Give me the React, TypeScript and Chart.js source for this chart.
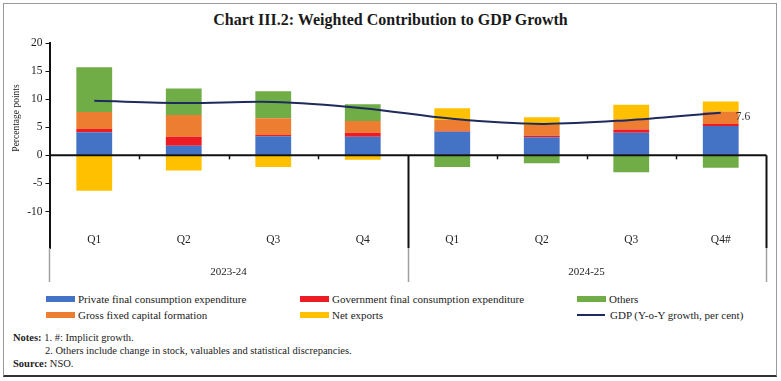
import React, { useEffect, useRef } from 'react';
import { Chart, registerables } from 'chart.js';

Chart.register(...registerables);

const QUARTERS = ['Q1', 'Q2', 'Q3', 'Q4', 'Q1', 'Q2', 'Q3', 'Q4#'];
const YEARS = ['2023-24', '2024-25'];
const PFCE = [4.1, 1.7, 3.4, 3.3, 4.2, 3.2, 4.0, 5.2];
const GFCE = [0.6, 1.6, 0.2, 0.7, 0.1, 0.3, 0.6, 0.4];
const GFCF = [3.0, 3.9, 3.0, 2.1, 2.0, 1.9, 1.8, 2.2];
const OTHERS = [8.0, 4.7, 4.8, 3.0, -2.1, -1.4, -3.0, -2.2];
const NET_EXPORTS = [-6.3, -2.7, -2.1, -0.8, 2.1, 1.4, 2.6, 1.8];
const GDP = [9.7, 9.3, 9.5, 8.4, 6.5, 5.6, 6.3, 7.6];
const Y_TICKS = [-10, -5, 0, 5, 10, 15, 20];

const SERIES_NAMES = {
  pfce: 'Private final consumption expenditure',
  gfce: 'Government final consumption expenditure',
  others: 'Others',
  gfcf: 'Gross fixed capital formation',
  net: 'Net exports',
  gdp: 'GDP (Y-o-Y growth, per cent)',
};

const COLORS = {
  pfce: '#4472C4',
  gfce: '#ED1C24',
  others: '#70AD47',
  gfcf: '#ED7D31',
  net: '#FFC000',
  gdp: '#1F2A5C',
};

const FONT = '"Liberation Serif", "Times New Roman", serif';

const decorPlugin = {
  id: 'decor',
  afterDatasetsDraw(chart: any) {
    const { ctx, chartArea: a, scales } = chart;
    const x = scales.x;
    const y = scales.y;
    const y0 = y.getPixelForValue(0);
    const labelBottom = 282;
    const n = QUARTERS.length;
    const half = (x.getPixelForValue(1) - x.getPixelForValue(0)) / 2;
    ctx.save();
    // zero line
    ctx.strokeStyle = '#111';
    ctx.lineWidth = 2;
    ctx.beginPath();
    ctx.moveTo(a.left, y0);
    ctx.lineTo(a.right + 1, y0);
    ctx.stroke();
    // category boundaries
    for (let i = 1; i <= n; i++) {
      const bx = Math.round(x.getPixelForValue(i - 1) + half) + 0.5;
      if (i % 4 === 0) {
        ctx.strokeStyle = '#111';
        ctx.lineWidth = 2;
        ctx.beginPath();
        ctx.moveTo(bx, y0);
        ctx.lineTo(bx, a.bottom);
        ctx.stroke();
        ctx.strokeStyle = '#a0a0a0';
        ctx.lineWidth = 1.5;
        ctx.beginPath();
        ctx.moveTo(bx, a.bottom);
        ctx.lineTo(bx, labelBottom);
        ctx.stroke();
      } else {
        ctx.strokeStyle = '#111';
        ctx.lineWidth = 1.5;
        ctx.beginPath();
        ctx.moveTo(bx, y0);
        ctx.lineTo(bx, y0 + 4);
        ctx.stroke();
      }
    }
    // left grey extension
    ctx.strokeStyle = '#a0a0a0';
    ctx.lineWidth = 1.5;
    ctx.beginPath();
    ctx.moveTo(a.left, a.bottom);
    ctx.lineTo(a.left, labelBottom);
    ctx.stroke();
    // quarter labels
    ctx.fillStyle = '#222';
    ctx.textAlign = 'center';
    ctx.textBaseline = 'middle';
    ctx.font = '11.5px ' + FONT;
    QUARTERS.forEach((q, i) => ctx.fillText(q, x.getPixelForValue(i), 240));
    // year labels
    ctx.font = '11px ' + FONT;
    YEARS.forEach((yr, g) => {
      const c = (x.getPixelForValue(g * 4) + x.getPixelForValue(g * 4 + 3)) / 2;
      ctx.fillText(yr, c, 272);
    });
    // data label for last GDP point
    const meta = chart.getDatasetMeta(5);
    const pt = meta.data[n - 1];
    ctx.textAlign = 'left';
    ctx.font = '11.5px ' + FONT;
    ctx.fillStyle = '#333';
    ctx.fillText(String(GDP[n - 1]), pt.x + 15, pt.y + 4);
    // y title
    ctx.translate(16, 118);
    ctx.rotate(-Math.PI / 2);
    ctx.textAlign = 'center';
    ctx.font = '9.5px ' + FONT;
    ctx.fillStyle = '#222';
    ctx.fillText('Percentage points', 0, 0);
    ctx.restore();
  },
};

export default function App() {
  const ref = useRef<HTMLCanvasElement | null>(null);

  useEffect(() => {
    if (!ref.current) return;
    const barCommon = {
      type: 'bar' as const,
      stack: 'parts',
      barPercentage: 0.4,
      categoryPercentage: 1,
      borderWidth: 0,
      order: 1,
    };
    const chart = new Chart(ref.current, {
      type: 'bar',
      data: {
        labels: QUARTERS,
        datasets: [
          { ...barCommon, label: SERIES_NAMES.pfce, data: PFCE, backgroundColor: COLORS.pfce },
          { ...barCommon, label: SERIES_NAMES.gfce, data: GFCE, backgroundColor: COLORS.gfce },
          { ...barCommon, label: SERIES_NAMES.gfcf, data: GFCF, backgroundColor: COLORS.gfcf },
          { ...barCommon, label: SERIES_NAMES.others, data: OTHERS, backgroundColor: COLORS.others },
          { ...barCommon, label: SERIES_NAMES.net, data: NET_EXPORTS, backgroundColor: COLORS.net },
          {
            type: 'line' as const,
            label: SERIES_NAMES.gdp,
            data: GDP,
            stack: 'gdp',
            borderColor: COLORS.gdp,
            backgroundColor: COLORS.gdp,
            borderWidth: 2,
            pointRadius: 0,
            tension: 0.35,
            fill: false,
            order: 0,
          } as any,
        ],
      },
      options: {
        responsive: false,
        animation: false,
        devicePixelRatio: 1,
        layout: { padding: { left: 0, right: 15.5, top: 43, bottom: 42 } },
        plugins: {
          legend: { display: false },
          title: { display: false },
          tooltip: { enabled: false },
        },
        scales: {
          x: {
            display: false,
            stacked: true,
          },
          y: {
            stacked: true,
            min: -16.5,
            max: 20,
            afterFit: (scale: any) => {
              scale.width = 49.5;
            },
            afterBuildTicks: (scale: any) => {
              scale.ticks = Y_TICKS.map((v) => ({ value: v }));
            },
            border: { display: true, color: '#111', width: 2 },
            grid: {
              display: true,
              drawOnChartArea: false,
              drawTicks: true,
              tickLength: 4,
              tickColor: '#111',
              color: '#111',
            },
            ticks: {
              padding: 3,
              color: '#222',
              font: { family: FONT, size: 11.5 },
            },
          },
        },
      },
      plugins: [decorPlugin],
    } as any);
    return () => chart.destroy();
  }, []);

  const legendRows = [
    [
      { key: 'pfce', kind: 'box' },
      { key: 'gfce', kind: 'box' },
      { key: 'others', kind: 'box' },
    ],
    [
      { key: 'gfcf', kind: 'box' },
      { key: 'net', kind: 'box' },
      { key: 'gdp', kind: 'line' },
    ],
  ];
  const colX = [46, 300, 577];
  const rowY = [299, 315];

  return (
    <div
      style={{
        position: 'fixed',
        left: 0,
        top: 0,
        width: 781,
        height: 381,
        background: '#fff',
        fontFamily: FONT,
        color: '#222',
        overflow: 'hidden',
      }}
    >
      <div
        style={{
          position: 'absolute',
          left: 3,
          top: 3,
          width: 774,
          height: 374,
          boxSizing: 'border-box',
          border: '1.5px solid #9a9a9a',
          borderBottom: '2px solid #333',
        }}
      />
      <div
        style={{
          position: 'absolute',
          left: 0,
          top: 9,
          width: 781,
          textAlign: 'center',
          fontWeight: 'bold',
          fontSize: 16,
          lineHeight: '22px',
          color: '#1a1a1a',
        }}
      >
        Chart III.2: Weighted Contribution to GDP Growth
      </div>
      <canvas
        ref={ref}
        width={781}
        height={290}
        style={{ position: 'absolute', left: 0, top: 0, width: 781, height: 290 }}
      />
      {legendRows.map((row, r) =>
        row.map((item, c) => (
          <div
            key={item.key}
            style={{
              position: 'absolute',
              left: colX[c],
              top: rowY[r] - 8,
              height: 16,
              display: 'flex',
              alignItems: 'center',
              fontSize: 11,
              whiteSpace: 'nowrap',
            }}
          >
            {item.kind === 'box' ? (
              <span
                style={{
                  display: 'inline-block',
                  width: 29,
                  height: 6,
                  background: (COLORS as any)[item.key],
                  marginRight: 3,
                }}
              />
            ) : (
              <span
                style={{
                  display: 'inline-block',
                  width: 28,
                  height: 2,
                  background: (COLORS as any)[item.key],
                  marginRight: 5,
                }}
              />
            )}
            <span>{(SERIES_NAMES as any)[item.key]}</span>
          </div>
        ))
      )}
      <div style={{ position: 'absolute', left: 13, top: 331, fontSize: 10.5, lineHeight: '13px', whiteSpace: 'nowrap' }}>
        <b>Notes:</b> 1. #: Implicit growth.
      </div>
      <div style={{ position: 'absolute', left: 45, top: 344, fontSize: 10.5, lineHeight: '13px', whiteSpace: 'nowrap' }}>
        2. Others include change in stock, valuables and statistical discrepancies.
      </div>
      <div style={{ position: 'absolute', left: 13, top: 357, fontSize: 10.5, lineHeight: '13px', whiteSpace: 'nowrap' }}>
        <b>Source:</b> NSO.
      </div>
    </div>
  );
}
